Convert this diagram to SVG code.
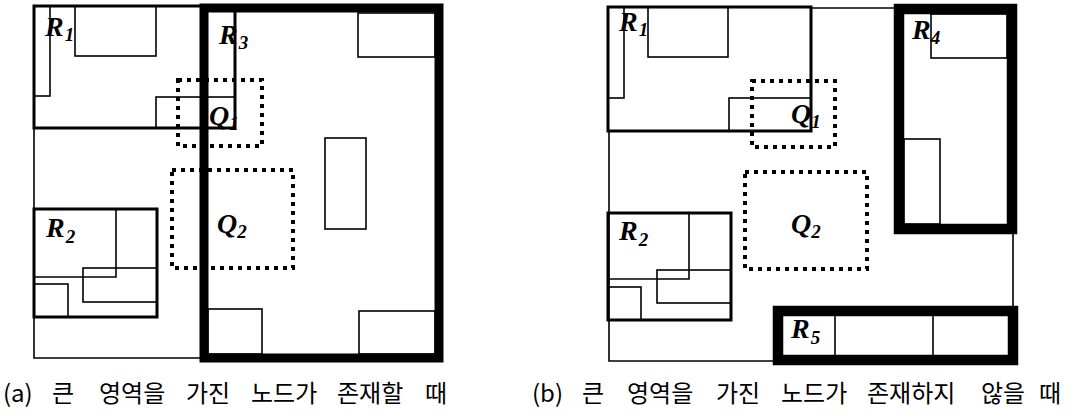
<svg xmlns="http://www.w3.org/2000/svg" width="1071" height="414" viewBox="0 0 1071 414">
<style>
.t{fill:none;stroke:#000;stroke-width:1.6}
.m{fill:none;stroke:#000;stroke-width:3}
.k{fill:none;stroke:#000;stroke-width:9}
.kk{fill:none;stroke:#000;stroke-width:10.5}
.d{fill:none;stroke:#000;stroke-width:4;stroke-dasharray:4 5}
.lb{font-family:"Liberation Serif","Times New Roman",serif;font-weight:bold;font-style:italic;font-size:28px;fill:#000}
.sb{font-size:19px}
.cap{font-family:"Noto Sans CJK KR","Noto Sans",sans-serif;font-size:24px;fill:#000}
</style>
<rect width="1071" height="414" fill="#fff"/>
<g id="connectors"/>
<!-- Panel (a) -->
<g id="a-space"><path class="t" d="M204,358 H34 V6"/></g>
<g id="a-R1">
<rect class="t" x="34" y="6" width="16" height="90"/>
<rect class="t" x="75" y="6" width="81" height="50"/>
<rect class="t" x="156" y="97" width="79" height="31"/>
<rect class="m" x="34" y="6" width="201" height="122"/>
<text class="lb" x="45" y="36">R<tspan class="sb" dx="1" dy="5">1</tspan></text>
</g>
<g id="a-R3">
<rect class="t" x="358" y="13" width="77" height="44"/>
<rect class="t" x="325" y="138" width="41" height="91"/>
<rect class="t" x="208" y="309" width="54" height="45"/>
<rect class="t" x="359" y="311" width="76" height="43"/>
<rect class="k" x="204" y="8" width="235" height="350"/>
<text class="lb" x="219" y="44">R<tspan class="sb" dx="1" dy="5">3</tspan></text>
</g>
<g id="a-Q1">
<rect class="d" x="178" y="80" width="84" height="66"/>
<text class="lb" x="209" y="125">Q<tspan class="sb" dx="0" dy="5">1</tspan></text>
</g>
<g id="a-Q2">
<rect class="d" x="172" y="170" width="121" height="98"/>
<text class="lb" x="217" y="233">Q<tspan class="sb" dx="0" dy="5">2</tspan></text>
</g>
<g id="a-R2">
<path class="t" d="M34,277 H116 V209"/>
<rect class="t" x="83" y="268" width="74" height="34"/>
<rect class="t" x="34" y="284" width="34" height="33"/>
<rect class="m" x="34" y="209" width="123" height="108"/>
<text class="lb" x="46" y="237">R<tspan class="sb" dx="1" dy="6">2</tspan></text>
</g>
<!-- Panel (b) -->
<g id="b-space"><path class="t" d="M811,8 H899 M609,131 V361 H778 M1013,229 V311"/></g>
<g id="b-R1">
<rect class="t" x="608" y="7" width="16" height="91"/>
<rect class="t" x="648" y="7" width="80" height="50"/>
<rect class="t" x="729" y="98" width="82" height="33"/>
<rect class="m" x="608" y="7" width="203" height="124"/>
<text class="lb" x="619" y="31">R<tspan class="sb" dx="1" dy="5">1</tspan></text>
</g>
<g id="b-Q1">
<rect class="d" x="752" y="81" width="83" height="66"/>
<text class="lb" x="791" y="123">Q<tspan class="sb" dx="0" dy="5">1</tspan></text>
</g>
<g id="b-R4">
<rect class="t" x="931" y="14" width="76" height="44"/>
<rect class="t" x="904" y="139" width="36" height="85"/>
<rect class="kk" x="899" y="9" width="113" height="220"/>
<text class="lb" x="912" y="39">R<tspan class="sb" dx="0" dy="5">4</tspan></text>
</g>
<g id="b-Q2">
<rect class="d" x="745" y="172" width="122" height="97"/>
<text class="lb" x="791" y="233">Q<tspan class="sb" dx="0" dy="5">2</tspan></text>
</g>
<g id="b-R2">
<path class="t" d="M608,279 H689 V213"/>
<rect class="t" x="657" y="270" width="74" height="33"/>
<rect class="t" x="608" y="287" width="33" height="33"/>
<rect class="m" x="608" y="213" width="123" height="107"/>
<text class="lb" x="619" y="240">R<tspan class="sb" dx="1" dy="6">2</tspan></text>
</g>
<g id="b-R5">
<path class="t" d="M835,316 V355 M933,316 V355"/>
<rect class="kk" x="778" y="311" width="235" height="49"/>
<text class="lb" x="791" y="338">R<tspan class="sb" dx="1" dy="6">5</tspan></text>
</g>
<!-- Captions -->
<g id="caption-a">
<text class="cap" y="402"><tspan x="3">(a)</tspan><tspan x="52">큰</tspan><tspan x="99">영역을</tspan><tspan x="186">가진</tspan><tspan x="251">노드가</tspan><tspan x="337">존재할</tspan><tspan x="425">때</tspan></text>
</g>
<g id="caption-b">
<text class="cap" y="402"><tspan x="532">(b)</tspan><tspan x="582">큰</tspan><tspan x="627">영역을</tspan><tspan x="716">가진</tspan><tspan x="781">노드가</tspan><tspan x="867">존재하지</tspan><tspan x="981">않을</tspan><tspan x="1039">때</tspan></text>
</g>
</svg>
